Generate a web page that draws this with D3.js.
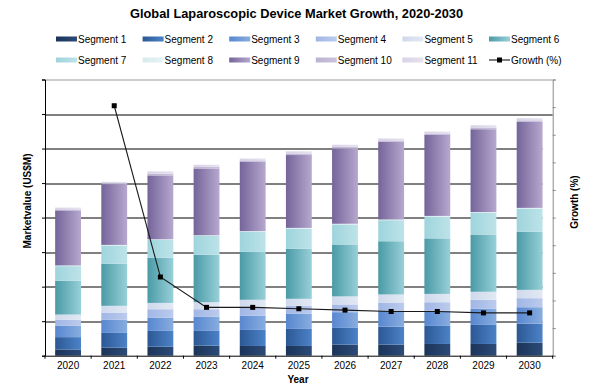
<!DOCTYPE html>
<html>
<head>
<meta charset="utf-8">
<script src="https://cdn.jsdelivr.net/npm/d3@7"></script>
<style>
  body { margin: 0; background: #fff; }
  svg { display: block; font-family: Arial, "Liberation Sans", sans-serif; }
</style>
</head>
<body>
<div id="chart"></div>
<script>
// data
var years = [2020, 2021, 2022, 2023, 2024, 2025, 2026, 2027, 2028, 2029, 2030];
var segmentNames = ['Segment 1', 'Segment 2', 'Segment 3', 'Segment 4', 'Segment 5', 'Segment 6',
                    'Segment 7', 'Segment 8', 'Segment 9', 'Segment 10', 'Segment 11'];
var seg1  = [180, 233, 262, 291, 282, 282, 320, 320, 340, 340, 378];
var seg2  = [358, 427, 456, 427, 465, 494, 485, 523, 523, 552, 552];
var seg3  = [326, 387, 387, 416, 416, 436, 456, 465, 445, 465, 474];
var seg4  = [174, 203, 241, 212, 224, 233, 224, 233, 241, 262, 262];
var seg5  = [154, 195, 183, 203, 233, 203, 233, 233, 241, 233, 241];
var seg6  = [980, 1221, 1308, 1375, 1387, 1453, 1503, 1541, 1608, 1657, 1686];
var seg7  = [422, 523, 515, 544, 581, 581, 581, 610, 631, 631, 669];
var seg8  = [20, 20, 20, 20, 20, 20, 20, 20, 20, 20, 20];
var seg9  = [1595, 1760, 1850, 1935, 2015, 2110, 2180, 2250, 2345, 2400, 2490];
var seg10 = [29, 29, 50, 45, 35, 45, 45, 40, 40, 50, 45];
var seg11 = [52, 38, 66, 63, 52, 63, 63, 56, 56, 66, 63];
var growth = [null, 18.1, 5.7, 3.5, 3.5, 3.4, 3.3, 3.2, 3.2, 3.1, 3.1];
var valueTicks = [0, 1000, 2000, 3000, 4000, 5000, 6000, 7000, 8000];
var growthTicks = [0, 2, 4, 6, 8, 10, 12, 14, 16, 18, 20];

var segments = [seg1, seg2, seg3, seg4, seg5, seg6, seg7, seg8, seg9, seg10, seg11];

// left / right shades of each segment's gradient
var darkColors  = ['#1b3459', '#2c5894', '#5887d0', '#a0b6e4', '#cfd9ec', '#4a9aa6',
                   '#9fd4dc', '#d6ebef', '#74649a', '#bcb2d2', '#d8d2e6'];
var lightColors = ['#2c4b78', '#4c82c8', '#88addf', '#bccbee', '#e2e9f4', '#98d0d8',
                   '#bde3e9', '#e6f3f5', '#b6a8ce', '#cbc3dd', '#e6e2ef'];

var width = 593;
var height = 390;
var margin = { left: 45, right: 40.3, top: 79.5, bottom: 34.3 };
var plotW = width - margin.left - margin.right;
var plotH = height - margin.top - margin.bottom;

// table for the stack
var table = years.map(function (yr, i) {
    var row = { year: yr };
    segmentNames.forEach(function (name, k) { row[name] = segments[k][i]; });
    return row;
});
var stacked = d3.stack().keys(segmentNames)(table);
var totals = table.map(function (r) { return d3.sum(segmentNames, function (k) { return r[k]; }); });

var x = d3.scaleBand()
    .domain(years)
    .range([0, plotW])
    .paddingInner(0.44)
    .paddingOuter(0.22);

var y = d3.scaleLinear()
    .domain([0, 8000])
    .range([plotH, 0]);

var yRight = d3.scaleLinear()
    .domain([0, 20])
    .range([plotH, 0]);

var svg = d3.select('#chart').append('svg')
    .attr('width', width)
    .attr('height', height);

var defs = svg.append('defs');
segmentNames.forEach(function (name, k) {
    var g = defs.append('linearGradient')
        .attr('id', 'grad' + k)
        .attr('x1', '0%').attr('x2', '100%')
        .attr('y1', '0%').attr('y2', '0%');
    g.append('stop').attr('offset', '0%').attr('stop-color', darkColors[k]);
    g.append('stop').attr('offset', '100%').attr('stop-color', lightColors[k]);
});

// title
svg.append('text')
    .attr('x', 296.5)
    .attr('y', 17.5)
    .attr('text-anchor', 'middle')
    .attr('font-size', 13.5)
    .attr('font-weight', 'bold')
    .attr('textLength', 333)
    .attr('lengthAdjust', 'spacingAndGlyphs')
    .text('Global Laparoscopic Device Market Growth, 2020-2030');

// legend
var legendItems = segmentNames.concat(['Growth (%)']);
var legend = svg.append('g').attr('class', 'legend');
legendItems.forEach(function (name, k) {
    var col = k % 6;
    var row = Math.floor(k / 6);
    var lg = legend.append('g')
        .attr('transform', 'translate(' + (56 + col * 86.6) + ',' + (39 + row * 21) + ')');
    if (k < segmentNames.length) {
        lg.append('rect')
            .attr('x', 0).attr('y', -2.5)
            .attr('width', 21).attr('height', 5)
            .attr('fill', 'url(#grad' + k + ')');
    } else {
        lg.append('line')
            .attr('x1', 0).attr('x2', 21)
            .attr('y1', 0).attr('y2', 0)
            .attr('stroke', '#000').attr('stroke-width', 1);
        lg.append('rect')
            .attr('x', 8).attr('y', -2.5)
            .attr('width', 5).attr('height', 5)
            .attr('fill', '#000');
    }
    lg.append('text')
        .attr('x', 22)
        .attr('y', 3.5)
        .attr('font-size', 10)
        .attr('fill', '#000')
        .text(name);
});

var chartGroup = svg.append('g')
    .attr('transform', 'translate(' + margin.left + ',' + margin.top + ')');

// gridlines (they stop at the last bar unless above it)
var lastBarEdge = x(years[years.length - 1]) + x.bandwidth();
var maxTotal = d3.max(totals);
chartGroup.append('g').attr('class', 'grid')
    .selectAll('line')
    .data(valueTicks.filter(function (v) { return v > 0 && v < 8000; }))
    .enter().append('line')
    .attr('x1', 0)
    .attr('x2', function (v) { return v > maxTotal ? plotW : lastBarEdge; })
    .attr('y1', function (v) { return Math.round(y(v)) + 0.5; })
    .attr('y2', function (v) { return Math.round(y(v)) + 0.5; })
    .attr('stroke', '#000')
    .attr('stroke-width', 1);

// top border of the plot area
chartGroup.append('line')
    .attr('x1', 0).attr('x2', plotW)
    .attr('y1', 0.5).attr('y2', 0.5)
    .attr('stroke', '#999');

// stacked bars
chartGroup.append('g').attr('class', 'bars')
    .selectAll('g')
    .data(stacked)
    .enter().append('g')
    .attr('fill', function (d, k) { return 'url(#grad' + k + ')'; })
    .selectAll('rect')
    .data(function (d) { return d; })
    .enter().append('rect')
    .attr('x', function (d) { return x(d.data.year); })
    .attr('y', function (d) { return y(d[1]); })
    .attr('width', x.bandwidth())
    .attr('height', function (d) { return y(d[0]) - y(d[1]); });

// left axis (no labels)
var yAxis = d3.axisLeft(y)
    .tickValues(valueTicks)
    .tickSize(3)
    .tickFormat('');
chartGroup.append('g')
    .attr('class', 'axis y')
    .call(yAxis)
    .call(function (g) {
        g.select('.domain').attr('stroke', '#000');
        g.selectAll('.tick line').attr('stroke', '#000');
    });

// right axis (no labels)
var yAxisRight = d3.axisRight(yRight)
    .tickValues(growthTicks)
    .tickSize(3)
    .tickFormat('');
chartGroup.append('g')
    .attr('class', 'axis y2')
    .attr('transform', 'translate(' + plotW + ',0)')
    .call(yAxisRight)
    .call(function (g) {
        g.select('.domain').attr('stroke', '#8a8a8a');
        g.selectAll('.tick line').attr('stroke', '#8a8a8a');
    });

// bottom axis: labels centered on bands, ticks between categories
var xAxis = d3.axisBottom(x).tickSize(0).tickPadding(6);
var xg = chartGroup.append('g')
    .attr('class', 'axis x')
    .attr('transform', 'translate(0,' + plotH + ')')
    .call(xAxis);
xg.select('.domain').attr('stroke', '#000');
xg.selectAll('text').attr('font-size', 10).attr('fill', '#000')
    .attr('font-family', 'Arial, "Liberation Sans", sans-serif');
var gap = (x.step() - x.bandwidth()) / 2;
var boundaries = years.map(function (yr) { return x(yr) - gap; }).concat([plotW]);
xg.selectAll('line.sep')
    .data(boundaries)
    .enter().append('line')
    .attr('class', 'sep')
    .attr('x1', function (d) { return d; })
    .attr('x2', function (d) { return d; })
    .attr('y1', 0).attr('y2', 3)
    .attr('stroke', '#000');

// growth line
var growthPts = years.map(function (yr, i) { return { year: yr, g: growth[i] }; })
    .filter(function (d) { return d.g !== null; });
var line = d3.line()
    .x(function (d) { return x(d.year) + x.bandwidth() / 2; })
    .y(function (d) { return yRight(d.g); });
chartGroup.append('path')
    .attr('d', line(growthPts))
    .attr('fill', 'none')
    .attr('stroke', '#1a1a1a')
    .attr('stroke-width', 1.1);
chartGroup.append('g').attr('class', 'markers')
    .selectAll('rect')
    .data(growthPts)
    .enter().append('rect')
    .attr('x', function (d) { return x(d.year) + x.bandwidth() / 2 - 2.5; })
    .attr('y', function (d) { return yRight(d.g) - 2.5; })
    .attr('width', 5)
    .attr('height', 5)
    .attr('fill', '#000');

// axis titles
svg.append('text')
    .attr('transform', 'translate(31,201) rotate(-90)')
    .attr('text-anchor', 'middle')
    .attr('font-size', 10)
    .attr('font-weight', 'bold')
    .text('Marketvalue (US$M)');

svg.append('text')
    .attr('transform', 'translate(578,202) rotate(-90)')
    .attr('text-anchor', 'middle')
    .attr('font-size', 10)
    .attr('font-weight', 'bold')
    .text('Growth (%)');

svg.append('text')
    .attr('x', 298)
    .attr('y', 383)
    .attr('text-anchor', 'middle')
    .attr('font-size', 10)
    .attr('font-weight', 'bold')
    .text('Year');
</script>
</body>
</html>
